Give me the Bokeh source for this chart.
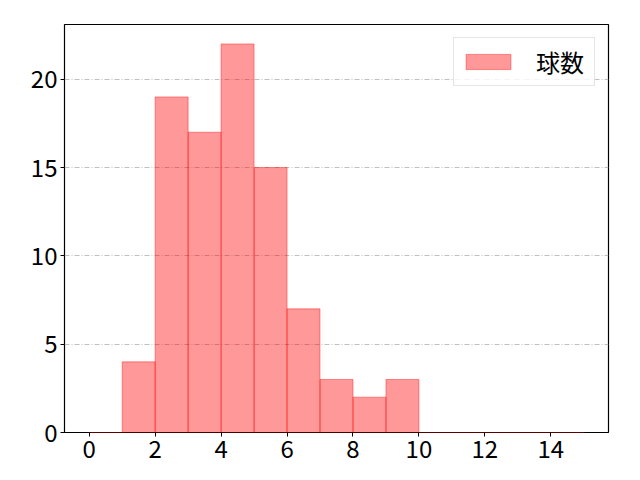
from bokeh.plotting import figure
from bokeh.models import Range1d, FixedTicker, Legend, LegendItem
from bokeh.embed import file_html
from bokeh.resources import INLINE

# Data: histogram of pitch counts (球数)
bin_edges = [0, 1, 2, 3, 4, 5, 6, 7, 8, 9, 10, 11, 12, 13, 14, 15]
counts = [0, 4, 19, 17, 22, 15, 7, 3, 2, 3, 0, 0, 0, 0, 0]
series_name = "球数"
x_ticks = [0, 2, 4, 6, 8, 10, 12, 14]
y_ticks = [0, 5, 10, 15, 20]

FONT = "Noto Sans CJK JP"

p = figure(width=624, height=464, output_backend="svg", toolbar_location=None,
           x_range=Range1d(-0.75, 15.75), y_range=Range1d(0, 23.1),
           min_border_left=64, min_border_right=16, min_border_top=24,
           min_border_bottom=32)

p.outline_line_color = "black"
p.outline_line_width = 1.2
p.xgrid.grid_line_color = None
p.ygrid.grid_line_color = "#b0b0b0"
p.ygrid.grid_line_width = 0.8
p.ygrid.grid_line_dash = "5 2 1 2"

r = p.quad(left=bin_edges[:-1], right=bin_edges[1:], bottom=0, top=counts,
           fill_color="red", fill_alpha=0.4, line_color="red", line_alpha=0.4,
           line_width=1)

for ax in (p.xaxis[0], p.yaxis[0]):
    ax.axis_line_color = None
    ax.major_tick_line_color = "black"
    ax.major_tick_line_width = 1
    ax.major_tick_out = 4
    ax.major_tick_in = 0
    ax.minor_tick_line_color = None
    ax.major_label_text_font = FONT
    ax.major_label_text_font_size = "24px"
    ax.major_label_text_color = "black"
    ax.major_label_standoff = 3

p.xaxis[0].ticker = FixedTicker(ticks=x_ticks)
p.yaxis[0].ticker = FixedTicker(ticks=y_ticks)

legend = Legend(items=[LegendItem(label=series_name, renderers=[r])],
                location="top_right", margin=13,
                padding=6, glyph_width=56, glyph_height=19,
                label_standoff=20, label_height=20, label_width=52,
                label_text_font=FONT, label_text_font_size="24px",
                label_text_color="black", label_text_line_height=1.0,
                border_line_color="#cccccc", border_line_width=1,
                background_fill_alpha=0.8)
p.add_layout(legend)

open("out.html", "w").write(file_html(p, INLINE))
